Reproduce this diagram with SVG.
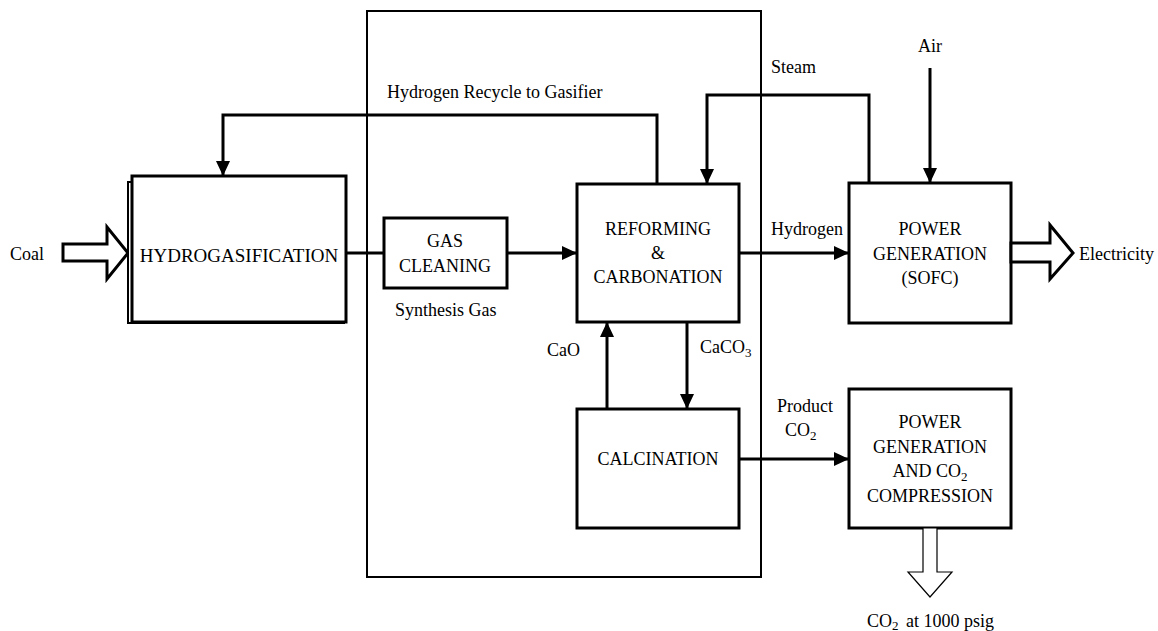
<svg xmlns="http://www.w3.org/2000/svg" width="1158" height="631" viewBox="0 0 1158 631" font-family="'Liberation Serif','Times New Roman',serif">
<defs>
<marker id="ah" markerUnits="userSpaceOnUse" markerWidth="16" markerHeight="14" refX="15" refY="7" orient="auto">
<path d="M0,0 L15,7 L0,14 Z" fill="#000"/>
</marker>
<style>
.box{fill:#fff;stroke:#000;stroke-width:3}
.frame{fill:none;stroke:#000;stroke-width:2}
.ln{fill:none;stroke:#000;stroke-width:3}
.arr{fill:none;stroke:#000;stroke-width:3;marker-end:url(#ah)}
.hollow{fill:#fff;stroke:#000;stroke-width:3;stroke-linejoin:miter}
.hollow1{fill:#fff;stroke:#000;stroke-width:1.2}
text{font-family:"Liberation Serif","Times New Roman",serif;font-size:18px;fill:#000}
.c{text-anchor:middle}
.sub{font-size:13px}
</style>
</defs>
<rect width="1158" height="631" fill="#fff"/>

<g id="frame">
<rect class="frame" x="367" y="11" width="394" height="566"/>
</g>

<g id="connectors">
<path class="ln" d="M346,253 H384"/>
<path class="arr" d="M507,253 H577"/>
<path class="arr" d="M657,184 V115 H223 V176"/>
<path class="arr" d="M869,183 V95 H707 V184"/>
<path class="arr" d="M930,68 V183"/>
<path class="arr" d="M739,253 H849"/>
<path class="arr" d="M607,409 V322"/>
<path class="arr" d="M687,322 V409"/>
<path class="arr" d="M739,459 H849"/>
</g>

<g id="coal">
<path class="hollow" d="M63,244 H107 V227 L128,253 L107,279 V261 H63 Z"/>
<text x="10" y="260">Coal</text>
</g>

<g id="hydrogasification">
<rect x="128" y="182" width="216" height="141" fill="#fff" stroke="#000" stroke-width="2"/>
<rect class="box" x="132" y="176" width="214" height="146"/>
<text class="c" x="239" y="262" style="font-size:19px">HYDROGASIFICATION</text>
</g>

<g id="gas-cleaning">
<rect class="box" x="384" y="218" width="123" height="70"/>
<text class="c" x="445" y="247">GAS</text>
<text class="c" x="445" y="272">CLEANING</text>
</g>

<g id="reforming">
<rect class="box" x="577" y="184" width="162" height="138"/>
<text class="c" x="658" y="235">REFORMING</text>
<text class="c" x="658" y="259">&amp;</text>
<text class="c" x="658" y="283">CARBONATION</text>
</g>

<g id="calcination">
<rect class="box" x="577" y="409" width="162" height="119"/>
<text class="c" x="658" y="465">CALCINATION</text>
</g>

<g id="power-sofc">
<rect class="box" x="849" y="183" width="162" height="140"/>
<text class="c" x="930" y="235">POWER</text>
<text class="c" x="930" y="260">GENERATION</text>
<text class="c" x="930" y="284">(SOFC)</text>
</g>

<g id="power-co2">
<rect class="box" x="849" y="389" width="162" height="139"/>
<text class="c" x="930" y="428">POWER</text>
<text class="c" x="930" y="453">GENERATION</text>
<text class="c" x="930" y="477">AND CO<tspan class="sub" dy="4">2</tspan></text>
<text class="c" x="930" y="502">COMPRESSION</text>
</g>

<g id="electricity">
<path class="hollow" d="M1011,243 H1050 V225 L1073,253 L1050,279 V262 H1011 Z"/>
<text x="1079" y="260">Electricity</text>
</g>

<g id="co2-out">
<path class="hollow1" d="M923,528 V572 H908 L930,597 L952,572 H937 V528 Z"/>
<text x="867" y="627">CO<tspan class="sub" dy="3">2</tspan></text>
<text x="906" y="627">at 1000 psig</text>
</g>

<g id="labels">
<text x="387" y="98">Hydrogen Recycle to Gasifier</text>
<text x="771" y="73">Steam</text>
<text class="c" x="930" y="52">Air</text>
<text x="771" y="235">Hydrogen</text>
<text x="395" y="316">Synthesis Gas</text>
<text x="547" y="356">CaO</text>
<text x="700" y="353">CaCO<tspan class="sub" dy="4">3</tspan></text>
<text x="777" y="412">Product</text>
<text x="785" y="436">CO<tspan class="sub" dy="4">2</tspan></text>
</g>
</svg>
